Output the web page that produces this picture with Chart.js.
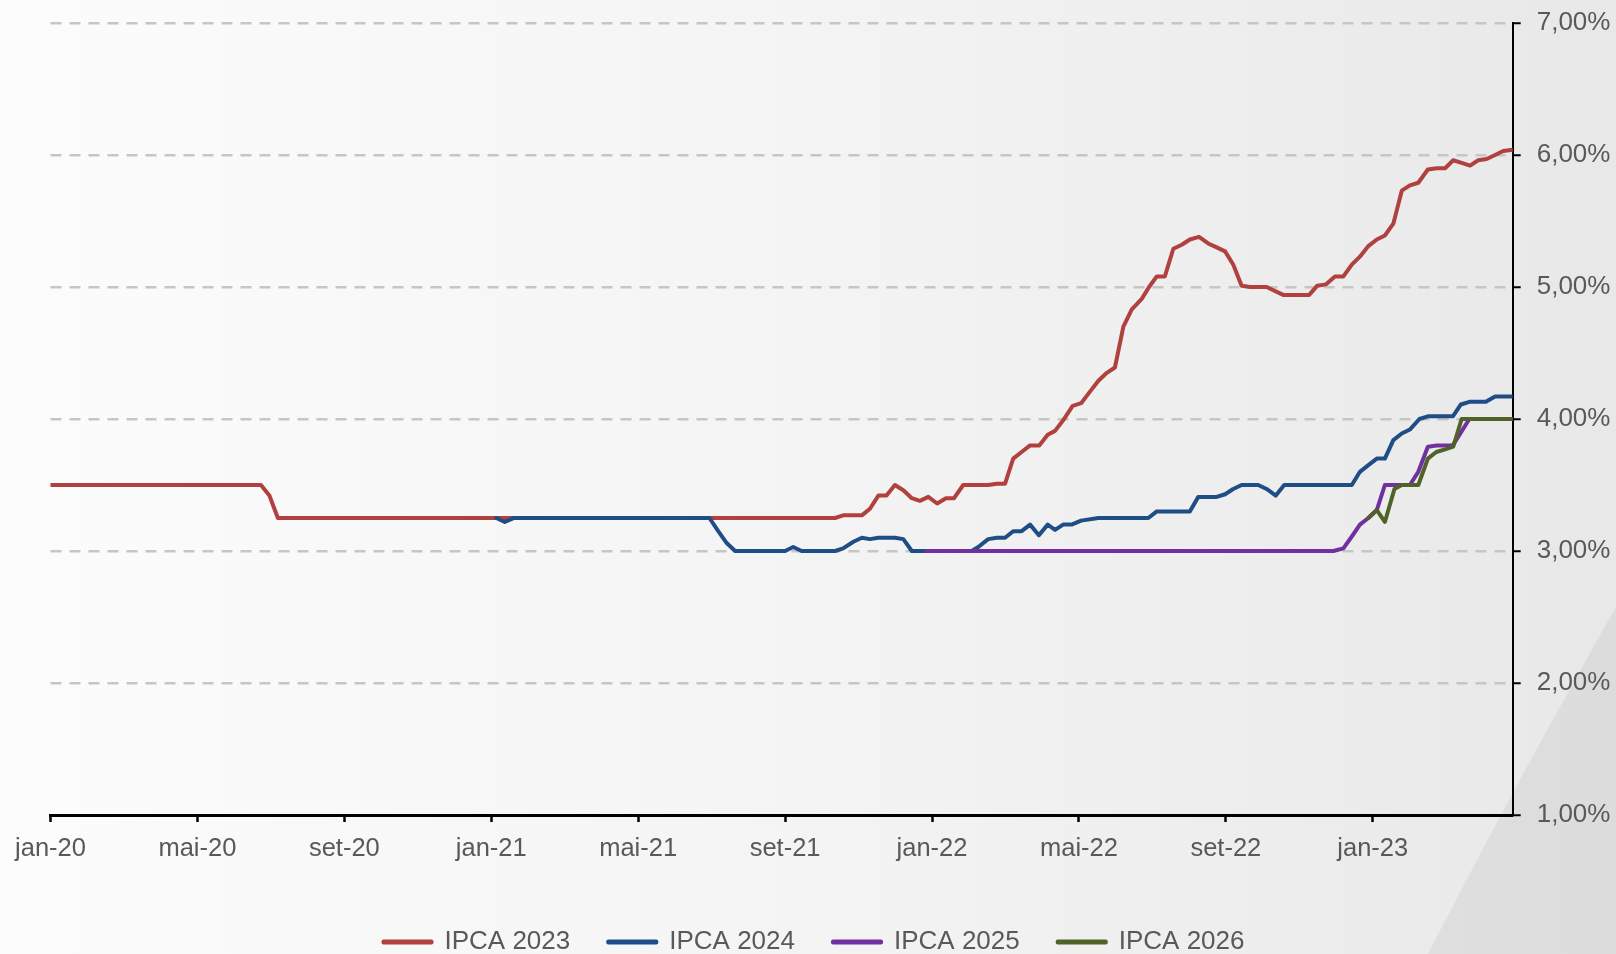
<!DOCTYPE html>
<html lang="pt-BR">
<head>
<meta charset="utf-8">
<title>Expectativas IPCA</title>
<script src="https://cdn.jsdelivr.net/npm/chart.js@4.4.1/dist/chart.umd.min.js"></script>
<style>
  html, body { margin: 0; padding: 0; }
  #wrap { position: relative; width: 1616px; height: 954px; }
</style>
</head>
<body>
<div id="wrap"><canvas id="ipcaChart"></canvas></div>
<script>
// Focus expectations for IPCA, weekly readings
// x values are months counted from jan-20 (0 = jan-20, 12 = jan-21 ...)

const xTickLabels = ['jan-20', 'mai-20', 'set-20', 'jan-21', 'mai-21', 'set-21', 'jan-22', 'mai-22', 'set-22', 'jan-23'];
const yTickValues = [1, 2, 3, 4, 5, 6, 7];

const ipca2023Months = [0.00, 5.73, 5.96, 6.19, 21.36, 21.58, 22.09, 22.31, 22.54, 22.76,
  22.99, 23.22, 23.45, 23.67, 23.90, 24.14, 24.38, 24.60, 24.85, 25.53,
  25.76, 25.99, 26.21, 26.44, 26.67, 26.92, 27.15, 27.35, 27.57, 27.83,
  28.06, 28.28, 28.53, 28.76, 28.98, 29.21, 29.44, 29.71, 29.91, 30.12,
  30.34, 30.57, 30.80, 31.02, 31.27, 31.52, 31.75, 31.98, 32.20, 32.43,
  32.66, 33.11, 33.56, 34.27, 34.49, 34.73, 34.97, 35.20, 35.43, 35.65,
  35.88, 36.11, 36.33, 36.56, 36.79, 37.01, 37.24, 37.50, 37.74, 37.97,
  38.19, 38.42, 38.65, 38.87, 39.10, 39.33, 39.55, 39.81];
const ipca2023Values = [3.50, 3.50, 3.42, 3.25, 3.25, 3.27, 3.27, 3.32, 3.42, 3.42,
  3.50, 3.46, 3.40, 3.38, 3.41, 3.36, 3.40, 3.40, 3.50, 3.50,
  3.51, 3.51, 3.70, 3.75, 3.80, 3.80, 3.88, 3.91, 3.99, 4.10,
  4.12, 4.20, 4.29, 4.35, 4.39, 4.70, 4.83, 4.91, 5.00, 5.08,
  5.08, 5.29, 5.32, 5.36, 5.38, 5.33, 5.30, 5.27, 5.17, 5.01,
  5.00, 5.00, 4.94, 4.94, 5.01, 5.02, 5.08, 5.08, 5.17, 5.23,
  5.31, 5.36, 5.39, 5.48, 5.73, 5.77, 5.79, 5.89, 5.90, 5.90,
  5.96, 5.94, 5.92, 5.96, 5.97, 6.00, 6.03, 6.04];

const ipca2024Months = [12.14, 12.37, 12.62, 17.94, 18.18, 18.41, 18.64, 20.00, 20.22, 20.45,
  21.36, 21.58, 21.86, 22.09, 22.31, 22.54, 22.99, 23.22, 23.45, 25.08,
  25.26, 25.53, 25.76, 25.99, 26.21, 26.44, 26.67, 26.91, 27.15, 27.35,
  27.57, 27.80, 28.06, 28.53, 29.89, 30.12, 31.02, 31.25, 31.75, 31.98,
  32.20, 32.43, 32.88, 33.11, 33.36, 33.59, 35.43, 35.65, 35.88, 36.11,
  36.33, 36.56, 36.79, 37.01, 37.27, 37.50, 38.18, 38.40, 38.63, 39.08,
  39.33, 39.81];
const ipca2024Values = [3.25, 3.22, 3.25, 3.25, 3.15, 3.06, 3.00, 3.00, 3.03, 3.00,
  3.00, 3.02, 3.07, 3.10, 3.09, 3.10, 3.10, 3.09, 3.00, 3.00,
  3.03, 3.09, 3.10, 3.10, 3.15, 3.15, 3.20, 3.12, 3.20, 3.16,
  3.20, 3.20, 3.23, 3.25, 3.25, 3.30, 3.30, 3.41, 3.41, 3.43,
  3.47, 3.50, 3.50, 3.47, 3.42, 3.50, 3.50, 3.60, 3.65, 3.70,
  3.70, 3.84, 3.89, 3.92, 4.00, 4.02, 4.02, 4.11, 4.13, 4.13,
  4.17, 4.17];

const ipca2025Months = [23.85, 34.93, 35.20, 35.43, 35.65, 35.88, 36.11, 36.33, 37.01, 37.24, 37.50, 37.74, 38.18, 38.63, 39.81];
const ipca2025Values = [3.00, 3.00, 3.02, 3.11, 3.20, 3.25, 3.31, 3.50, 3.50, 3.60, 3.79, 3.80, 3.80, 4.00, 4.00];

const ipca2026Months = [35.88, 36.11, 36.33, 36.59, 36.79, 37.24, 37.50, 37.73, 37.97, 38.19, 38.42, 39.81];
const ipca2026Values = [3.25, 3.31, 3.22, 3.47, 3.50, 3.50, 3.70, 3.75, 3.77, 3.79, 4.00, 4.00];

const LAST_MONTH = 39.81;

// ── Chart defaults ────────────────────────────────────────────────────────────

Chart.defaults.font.family = '"Liberation Sans", Arial, sans-serif';
Chart.defaults.color = '#595959';

const toPoints = (months, values) => months.map((m, i) => ({ x: m, y: values[i] }));

function series(label, months, values, color, order) {
  return {
    label,
    data: toPoints(months, values),
    borderColor: color,
    backgroundColor: color,
    borderWidth: 4,
    borderCapStyle: 'round',
    borderJoinStyle: 'round',
    pointRadius: 0,
    tension: 0,
    order,
  };
}

// light grey backdrop with the swoosh in the lower right corner
const backdrop = {
  id: 'backdrop',
  beforeDraw(chart) {
    const { ctx, width, height } = chart;
    ctx.save();
    const g = ctx.createLinearGradient(0, 0, width, 0);
    g.addColorStop(0, '#fcfcfc');
    g.addColorStop(0.5, '#f4f4f5');
    g.addColorStop(1, '#e8e8e9');
    ctx.fillStyle = g;
    ctx.fillRect(0, 0, width, height);

    ctx.beginPath();
    ctx.moveTo(width, 607);
    ctx.quadraticCurveTo(1512, 790, 1428, height);
    ctx.lineTo(width, height);
    ctx.closePath();
    ctx.fillStyle = 'rgba(0,0,0,0.05)';
    ctx.fill();
    ctx.restore();
  },
};

new Chart(document.getElementById('ipcaChart'), {
  type: 'line',
  data: {
    datasets: [
      series('IPCA 2023', ipca2023Months, ipca2023Values, '#b0413e', 4),
      series('IPCA 2024', ipca2024Months, ipca2024Values, '#1f4e87', 3),
      series('IPCA 2025', ipca2025Months, ipca2025Values, '#7030a0', 2),
      series('IPCA 2026', ipca2026Months, ipca2026Values, '#4f6228', 1),
    ],
  },
  options: {
    responsive: true,
    maintainAspectRatio: false,
    animation: false,
    layout: { padding: { top: 23, left: 12, right: 0, bottom: 0 } },
    plugins: {
      tooltip: { enabled: false },
      legend: {
        position: 'bottom',
        maxHeight: 63,
        labels: {
          font: { size: 26 },
          color: '#595959',
          boxWidth: 48,
          boxHeight: 1,
          padding: 38,
          sort: (a, b) => a.datasetIndex - b.datasetIndex,
        },
      },
    },
    scales: {
      x: {
        type: 'linear',
        min: 0,
        max: LAST_MONTH,
        grid: {
          drawOnChartArea: false,
          drawTicks: true,
          tickLength: 7,
          tickWidth: 2.5,
          tickColor: '#000',
        },
        border: { color: '#000', width: 3 },
        ticks: {
          stepSize: 4,
          includeBounds: false,
          autoSkip: false,
          maxRotation: 0,
          padding: 12,
          font: { size: 25.5 },
          callback: (v) => xTickLabels[Math.round(v / 4)],
        },
        afterFit(scale) {
          scale.height = 76;
          scale.paddingLeft = 50.5;
          scale.paddingRight = 0;
        },
      },
      y: {
        position: 'right',
        min: yTickValues[0],
        max: yTickValues[yTickValues.length - 1],
        grid: {
          color: (c) => (c.tick && c.tick.value === yTickValues[0] ? 'rgba(0,0,0,0)' : '#c6c6c6'),
          lineWidth: 2.5,
          tickLength: 8,
          tickWidth: 2,
          tickColor: '#000',
        },
        border: { color: '#000', width: 2, dash: [11, 8] },
        ticks: {
          stepSize: 1,
          padding: 16,
          font: { size: 26 },
          callback: (v) => v.toFixed(2).replace('.', ',') + '%',
        },
        afterFit(scale) {
          scale.width = 103.3;
          scale.paddingTop = 0;
          scale.paddingBottom = 0;
        },
      },
    },
  },
  plugins: [backdrop],
});
</script>
</body>
</html>
